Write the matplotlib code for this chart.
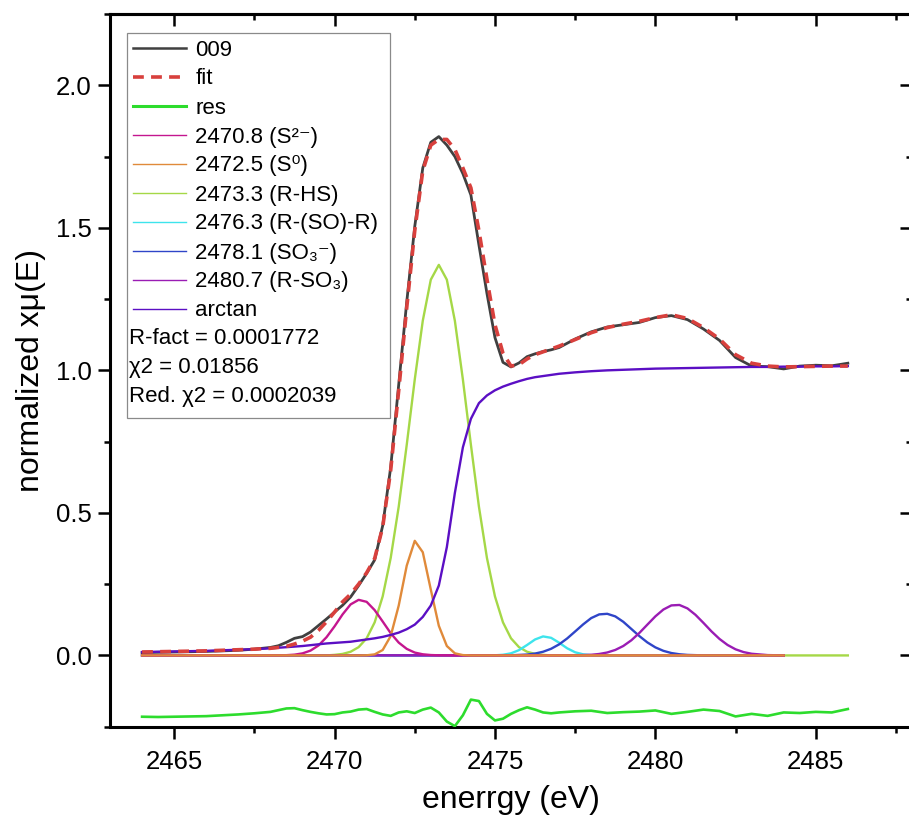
import matplotlib
matplotlib.use("Agg")
import matplotlib.pyplot as plt
from matplotlib.lines import Line2D
from matplotlib.patches import Rectangle
from matplotlib.ticker import MultipleLocator, FormatStrFormatter

plt.rcParams['font.family'] = ['Liberation Sans', 'DejaVu Sans']

# ---- measured spectrum, fit, residual and arctan step (shared energy grid) ----
energy = [2464.0, 2464.5, 2465.0, 2465.5, 2466.0, 2466.5, 2467.0, 2467.5, 2468.0,
          2468.25, 2468.5, 2468.75, 2469.0, 2469.25, 2469.5, 2469.75, 2470.0,
          2470.25, 2470.5, 2470.75, 2471.0, 2471.25, 2471.5, 2471.75, 2472.0,
          2472.25, 2472.5, 2472.75, 2473.0, 2473.25, 2473.5, 2473.75, 2474.0,
          2474.25, 2474.5, 2474.75, 2475.0, 2475.25, 2475.5, 2475.75, 2476.0,
          2476.25, 2476.5, 2476.75, 2477.0,
          2477.5, 2478.0, 2478.5, 2479.0, 2479.5, 2480.0, 2480.5, 2481.0, 2481.5,
          2482.0, 2482.5, 2483.0, 2483.5, 2484.0, 2484.5, 2485.0, 2485.5, 2486.0]

mu_009 = [0.010, 0.011, 0.012, 0.013, 0.014, 0.016, 0.018, 0.022, 0.028,
          0.034, 0.046, 0.060, 0.066, 0.082, 0.105, 0.128, 0.152,
          0.176, 0.205, 0.245, 0.288, 0.335, 0.455, 0.660, 0.950,
          1.240, 1.505, 1.710, 1.800, 1.820, 1.790, 1.750, 1.690,
          1.615, 1.440, 1.270, 1.115, 1.028, 1.012, 1.026, 1.048,
          1.058, 1.066, 1.072, 1.080,
          1.110, 1.135, 1.152, 1.160, 1.168, 1.185, 1.192, 1.178, 1.145,
          1.105, 1.045, 1.015, 1.013, 1.005, 1.015, 1.018, 1.016, 1.025]

mu_fit = [0.012, 0.013, 0.014, 0.015, 0.016, 0.018, 0.020, 0.022, 0.025,
          0.028, 0.032, 0.040, 0.050, 0.064, 0.088, 0.118, 0.152,
          0.188, 0.215, 0.250, 0.290, 0.340, 0.450, 0.650, 0.930,
          1.220, 1.490, 1.700, 1.790, 1.810, 1.810, 1.775, 1.710,
          1.640, 1.490, 1.320, 1.160, 1.060, 1.015, 1.020, 1.040,
          1.055, 1.065, 1.075, 1.085,
          1.108, 1.132, 1.150, 1.162, 1.172, 1.185, 1.195, 1.182, 1.150,
          1.110, 1.055, 1.025, 1.015, 1.012, 1.013, 1.014, 1.015, 1.015]

mu_res = [-0.215, -0.216, -0.215, -0.214, -0.213, -0.210, -0.207, -0.203, -0.198,
          -0.192, -0.186, -0.185, -0.192, -0.198, -0.203, -0.207, -0.206,
          -0.200, -0.197, -0.190, -0.188, -0.198, -0.207, -0.212, -0.200,
          -0.196, -0.202, -0.190, -0.183, -0.200, -0.232, -0.248, -0.210,
          -0.155, -0.160, -0.205, -0.228, -0.222, -0.205, -0.192, -0.182,
          -0.190, -0.200, -0.203, -0.200,
          -0.196, -0.194, -0.202, -0.199, -0.197, -0.193, -0.205, -0.198, -0.190,
          -0.195, -0.214, -0.205, -0.212, -0.200, -0.202, -0.198, -0.200, -0.188]

mu_arctan = [0.012, 0.013, 0.014, 0.015, 0.016, 0.018, 0.020, 0.022, 0.025,
             0.027, 0.029, 0.031, 0.033, 0.036, 0.039, 0.042, 0.044,
             0.046, 0.048, 0.052, 0.056, 0.060, 0.065, 0.072, 0.080,
             0.092, 0.108, 0.135, 0.175, 0.245, 0.380, 0.570, 0.730,
             0.830, 0.885, 0.912, 0.930, 0.943, 0.953, 0.962, 0.970,
             0.976, 0.980, 0.984, 0.988,
             0.993, 0.997, 1.000, 1.002, 1.004, 1.006, 1.007, 1.008, 1.009,
             1.010, 1.011, 1.012, 1.012, 1.013, 1.013, 1.014, 1.014, 1.015]

# ---- fitted peak components, each on its own energy grid ----
e_s2 = [2464.0, 2468.0, 2468.5, 2468.75, 2469.0, 2469.25, 2469.5, 2469.75, 2470.0,
        2470.25, 2470.5, 2470.75, 2471.0, 2471.25, 2471.5, 2471.75, 2472.0,
        2472.25, 2472.5, 2472.75, 2473.0, 2473.25, 2473.75, 2484.0]
y_s2 = [0.0, 0.0001, 0.0009, 0.0027, 0.0072, 0.0169, 0.035, 0.064, 0.102,
        0.144, 0.179, 0.195, 0.188, 0.159, 0.119, 0.078, 0.045,
        0.023, 0.010, 0.004, 0.0014, 0.0004, 0.0, 0.0]

e_s0 = [2464.0, 2470.75, 2471.0, 2471.25, 2471.5, 2471.75, 2472.0, 2472.25, 2472.5,
        2472.75, 2473.0, 2473.25, 2473.5, 2473.75, 2474.0, 2474.25, 2484.0]
y_s0 = [0.0, 0.0, 0.0005, 0.0037, 0.019, 0.068, 0.175, 0.315, 0.402,
        0.362, 0.231, 0.104, 0.033, 0.0074, 0.0012, 0.0, 0.0]

e_rhs = [2464.0, 2469.75, 2470.0, 2470.25, 2470.5, 2470.75, 2471.0, 2471.25, 2471.5,
         2471.75, 2472.0, 2472.25, 2472.5, 2472.75, 2473.0, 2473.25, 2473.5,
         2473.75, 2474.0, 2474.25, 2474.5, 2474.75, 2475.0, 2475.25, 2475.5,
         2475.75, 2476.0, 2476.25, 2476.5, 2476.75, 2486.0]
y_rhs = [0.0, 0.0, 0.002, 0.0053, 0.0129, 0.029, 0.060, 0.116, 0.207,
         0.342, 0.522, 0.739, 0.968, 1.174, 1.318, 1.370, 1.318,
         1.174, 0.968, 0.739, 0.522, 0.342, 0.207, 0.116, 0.060,
         0.029, 0.0129, 0.0053, 0.002, 0.0, 0.0]

e_rsor = [2464.0, 2474.75, 2475.0, 2475.25, 2475.5, 2475.75, 2476.0, 2476.25, 2476.5,
          2476.75, 2477.0, 2477.25, 2477.5, 2477.75, 2478.0, 2478.25, 2484.0]
y_rsor = [0.0, 0.0, 0.0005, 0.0023, 0.0074, 0.0186, 0.0366, 0.056, 0.0667,
          0.0618, 0.0447, 0.0251, 0.011, 0.0038, 0.001, 0.0, 0.0]

e_so3 = [2464.0, 2475.5, 2476.0, 2476.25, 2476.5, 2476.75, 2477.0, 2477.25, 2477.5,
         2477.75, 2478.0, 2478.25, 2478.5, 2478.75, 2479.0, 2479.25, 2479.5,
         2479.75, 2480.0, 2480.25, 2480.5, 2480.75, 2481.0, 2481.5, 2484.0]
y_so3 = [0.0, 0.0005, 0.0031, 0.0066, 0.0129, 0.0233, 0.0388, 0.0595, 0.0841,
         0.109, 0.131, 0.144, 0.146, 0.137, 0.118, 0.093, 0.068,
         0.0457, 0.0283, 0.0161, 0.0084, 0.0041, 0.0018, 0.0002, 0.0]

e_rso3 = [2464.0, 2477.5, 2478.0, 2478.25, 2478.5, 2478.75, 2479.0, 2479.25, 2479.5,
          2479.75, 2480.0, 2480.25, 2480.5, 2480.75, 2481.0, 2481.25, 2481.5,
          2481.75, 2482.0, 2482.25, 2482.5, 2482.75, 2483.0, 2483.5, 2484.0]
y_rso3 = [0.0, 0.0004, 0.0023, 0.0051, 0.0103, 0.0192, 0.0331, 0.053, 0.0787,
          0.108, 0.137, 0.161, 0.1755, 0.177, 0.165, 0.1425, 0.114,
          0.0843, 0.0578, 0.0367, 0.0215, 0.0117, 0.0059, 0.0012, 0.0002]

legend_labels = ["009", "fit", "res",
                 "2470.8 (S\u00b2\u207b)", "2472.5 (S\u2070)", "2473.3 (R-HS)",
                 "2476.3 (R-(SO)-R)", "2478.1 (SO\u2083\u207b)", "2480.7 (R-SO\u2083)",
                 "arctan"]
fit_stats = ["R-fact = 0.0001772", "\u03c72 = 0.01856", "Red. \u03c72 = 0.0002039"]

c_data, c_fit, c_res = "#404040", "#d8403d", "#2ddc2d"
c_s2, c_s0, c_rhs = "#c4168f", "#e08a3a", "#a5d847"
c_rsor, c_so3, c_rso3, c_arc = "#3ee4ec", "#2f45c8", "#9a1cb4", "#5b0fc4"

# ---- figure geometry (pixels) ----
W, H = 909, 825
AX_L, AX_R, AX_T, AX_B = 110.0, 912.0, 14.0, 726.7


def ax_x(px):
    return (px - AX_L) / (AX_R - AX_L)


def ax_y(py):
    return (AX_B - py) / (AX_B - AX_T)


fig = plt.figure(figsize=(W / 100, H / 100), dpi=100)
ax = fig.add_axes([AX_L / W, (H - AX_B) / H, (AX_R - AX_L) / W, (AX_B - AX_T) / H])

comp_lw = 1.7
ax.plot(energy, mu_009, color=c_data, lw=2.0, zorder=3)
ax.plot(energy, mu_fit, color=c_fit, lw=2.6, ls=(0, (3, 2)), zorder=4)
ax.plot(energy, mu_res, color=c_res, lw=1.9, zorder=3)
ax.plot(e_rhs, y_rhs, color=c_rhs, lw=comp_lw, zorder=3)
ax.plot(e_rsor, y_rsor, color=c_rsor, lw=comp_lw, zorder=3)
ax.plot(e_so3, y_so3, color=c_so3, lw=comp_lw, zorder=3)
ax.plot(e_rso3, y_rso3, color=c_rso3, lw=comp_lw, zorder=3)
ax.plot(e_s2, y_s2, color=c_s2, lw=comp_lw, zorder=3)
ax.plot(e_s0, y_s0, color=c_s0, lw=comp_lw, zorder=3)
ax.plot(energy, mu_arctan, color=c_arc, lw=comp_lw, zorder=3)

ax.set_xlim(2463, 2488)
ax.set_ylim(-0.25, 2.25)

# ---- axes styling: outward ticks bottom/left, inward ticks top/right ----
spine_w = 2.2
for s in ax.spines.values():
    s.set_linewidth(spine_w)
ax.xaxis.set_major_locator(MultipleLocator(5))
ax.xaxis.set_minor_locator(MultipleLocator(2.5))
ax.yaxis.set_major_locator(MultipleLocator(0.5))
ax.yaxis.set_minor_locator(MultipleLocator(0.25))
ax.yaxis.set_major_formatter(FormatStrFormatter('%.1f'))
ax.tick_params(which='major', direction='out', length=8.6, width=1.8, labelsize=18.5)
ax.tick_params(which='minor', direction='out', length=4.5, width=1.8)
ax.tick_params(axis='x', which='major', pad=8)
ax.tick_params(axis='y', which='major', pad=4.5)
ax.tick_params(top=False, right=False, which='both')

top = ax.secondary_xaxis('top')
top.xaxis.set_major_locator(MultipleLocator(5))
top.xaxis.set_minor_locator(MultipleLocator(2.5))
top.tick_params(which='major', direction='in', length=8.6, width=1.8, labeltop=False)
top.tick_params(which='minor', direction='in', length=4.5, width=1.8)
top.spines['top'].set_linewidth(spine_w)

right = ax.secondary_yaxis('right')
right.yaxis.set_major_locator(MultipleLocator(0.5))
right.yaxis.set_minor_locator(MultipleLocator(0.25))
right.tick_params(which='major', direction='in', length=8.6, width=1.8, labelright=False)
right.tick_params(which='minor', direction='in', length=4.5, width=1.8)
right.spines['right'].set_linewidth(spine_w)

ax.set_xlabel("enerrgy (eV)", fontsize=23)
ax.xaxis.set_label_coords(0.5, ax_y(785))
ax.set_ylabel("normalized x\u03bc(E)", fontsize=23)
ax.yaxis.set_label_coords(ax_x(46), 0.5)

# ---- legend box with fit statistics ----
frame = Rectangle((ax_x(127), ax_y(418)), ax_x(390) - ax_x(127), ax_y(33) - ax_y(418),
                  transform=ax.transAxes, facecolor="white", edgecolor="#8a8a8a",
                  lw=0.9, zorder=6)
ax.add_patch(frame)

handles = [
    Line2D([], [], color=c_data, lw=1.8),
    Line2D([], [], color=c_fit, lw=2.6, ls=(0, (3, 2))),
    Line2D([], [], color=c_res, lw=2.2),
    Line2D([], [], color=c_s2, lw=1.0),
    Line2D([], [], color=c_s0, lw=1.0),
    Line2D([], [], color=c_rhs, lw=1.0),
    Line2D([], [], color=c_rsor, lw=1.0),
    Line2D([], [], color=c_so3, lw=1.0),
    Line2D([], [], color=c_rso3, lw=1.0),
    Line2D([], [], color=c_arc, lw=1.0),
]
leg = ax.legend(handles, legend_labels, loc='upper left',
                bbox_to_anchor=(ax_x(133), ax_y(39.5)), frameon=False,
                fontsize=16, borderpad=0, borderaxespad=0,
                handlelength=2.4, handletextpad=0.4, labelspacing=0.36)
leg.set_zorder(7)

row0, row_step = 50.0, 28.9
for k, line in enumerate(fit_stats):
    ax.text(ax_x(129), ax_y(row0 + row_step * (10 + k)), line, transform=ax.transAxes,
            fontsize=16, ha='left', va='center', zorder=8)

fig.savefig("out.png", dpi=100)
